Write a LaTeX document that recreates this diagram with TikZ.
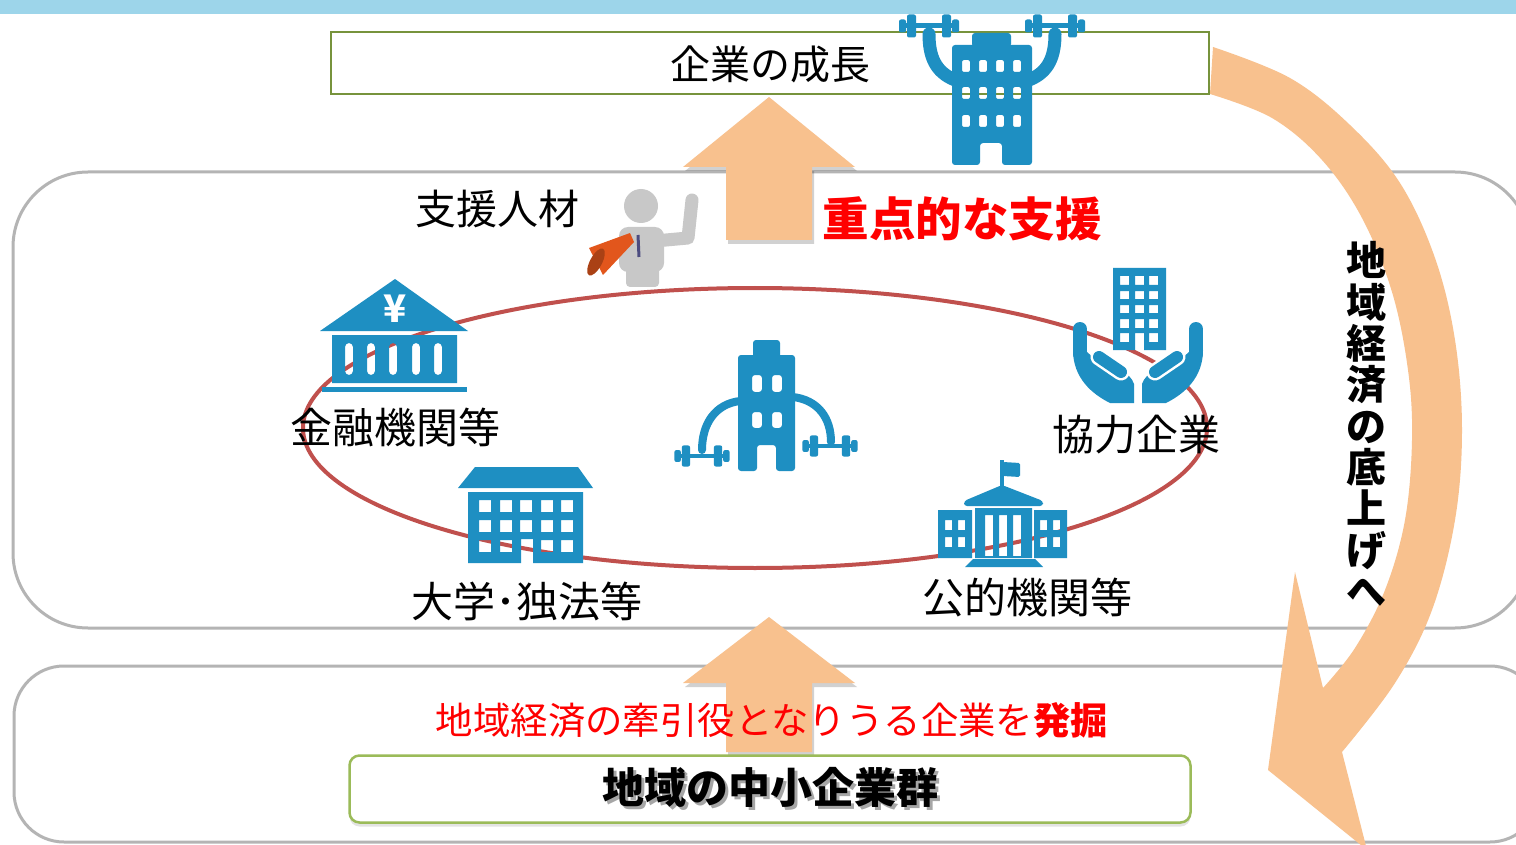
\documentclass[tikz,border=0pt]{standalone}
\usepackage{fontspec}
\setmainfont{Noto Sans CJK JP}
\usetikzlibrary{shadows}

\definecolor{bandblue}{HTML}{9DD5EA}
\definecolor{boxolive}{HTML}{77933C}
\definecolor{iconblue}{HTML}{1E8FC2}
\definecolor{peach}{HTML}{F8C18E}
\definecolor{ringred}{HTML}{C0504D}
\definecolor{panelgray}{HTML}{B4B4B4}
\definecolor{leafgreen}{HTML}{9BBB59}
\definecolor{figuregray}{HTML}{C8C8C8}
\definecolor{hornorange}{HTML}{E2561C}

\newcommand\jpsize[1]{\fontsize{#1}{#1}\selectfont}
% text with a soft grey copy slightly below and to the right
\newcommand\shadowed[1]{\rlap{\raisebox{-3pt}{\hspace{3pt}\textcolor{black!35}{#1}}}#1}
% straight block arrow pointing up: tip y, head base y, shaft bottom y
\newcommand\blockup[3]{(683,#2) -- (769,#1) -- (855,#2) -- (812,#2) -- (812,#3) -- (726,#3) -- (726,#2) -- cycle}
% one open hand (left); the right one is its mirror image
\newcommand\handshape{%
  \fill[iconblue] (1073,350) .. controls (1073,378) and (1092,394) .. (1110,403) -- (1134,403) -- (1134,384) .. controls (1130,372) and (1118,370) .. (1105,368) -- (1087,352) -- cycle;
  \draw[iconblue, line width=14, line cap=round] (1080,329) -- (1080,354);
  \draw[white, line width=17, line cap=round] (1099,357) -- (1121,372);
  \draw[iconblue, line width=12, line cap=round] (1099,357) -- (1121,372);
}

\tikzset{
  txt/.style={inner sep=0, text=black},
  dumbbellpic/.pic={
    \fill[iconblue] (-24,-2.5) rectangle (24,2.5);
    \fill[iconblue, rounded corners=2] (-22,-11.5) rectangle (-13,11.5);
    \fill[iconblue, rounded corners=2] (13,-11.5) rectangle (22,11.5);
    \fill[iconblue, rounded corners=2] (-30,-6.5) rectangle (-23,6.5);
    \fill[iconblue, rounded corners=2] (23,-6.5) rectangle (30,6.5);
  },
  arrowshadow/.style={fill=black, opacity=.18},
}

\begin{document}
\begin{tikzpicture}[x=1pt, y=-1pt]
\clip (0,0) rectangle (1516,845);
\fill[white] (0,0) rectangle (1516,845);

% header band
\fill[bandblue] (0,0) rectangle (1516,14);

% panels
\draw[panelgray, line width=3, rounded corners=75] (13,172) rectangle (1530,628);
\draw[panelgray, line width=3, rounded corners=50] (14,666) rectangle (1540,842);

% growth box
\node[draw=boxolive, line width=1.5, fill=white, minimum width=878, minimum height=62, inner sep=0] (growthbox) at (770,63) {};

% support ring
\draw[ringred, line width=4] (755,428) ellipse (452 and 140);

% ---- bank ----
\fill[iconblue] (395,279) -- (468,331) -- (320,331) -- cycle;
\node[inner sep=0, text=white, font=\bfseries\jpsize{38}] (yen) at (395,309) {¥};
\fill[iconblue, even odd rule] (332,335) rectangle (457,383)
  [rounded corners=4]
  (345,343) rectangle (353,375) (367,343) rectangle (375,375) (389,343) rectangle (397,375)
  (412,343) rectangle (420,375) (434,343) rectangle (442,375);
\fill[iconblue] (322,387) rectangle (467,392);

% ---- partner company held in hands ----
\fill[iconblue, even odd rule] (1113,268) -- (1166,268) -- (1166,350) -- (1144,350) -- (1144,333) -- (1135,333) -- (1135,350) -- (1113,350) -- cycle
  (1120,276) rectangle (1129,285) (1135,276) rectangle (1144,285) (1149,276) rectangle (1158,285)
  (1120,291) rectangle (1129,299) (1135,291) rectangle (1144,299) (1149,291) rectangle (1158,299)
  (1120,305) rectangle (1129,313) (1135,305) rectangle (1144,313) (1149,305) rectangle (1158,313)
  (1120,319) rectangle (1129,328) (1135,319) rectangle (1144,328) (1149,319) rectangle (1158,328)
  (1120,333) rectangle (1129,342) (1149,333) rectangle (1158,342);
\handshape
\begin{scope}[shift={(2276,0)}, xscale=-1]
  \handshape
\end{scope}

% ---- university ----
\fill[iconblue] (475,467) -- (578,467) -- (593,488) -- (458,488) -- cycle;
\fill[iconblue, even odd rule] (468,492) -- (583,492) -- (583,563) -- (533,563) -- (533,539) -- (521,539) -- (521,563) -- (468,563) -- cycle
  (479,500) rectangle (491,512) (500,500) rectangle (512,512) (520,500) rectangle (532,512) (541,500) rectangle (553,512) (561,500) rectangle (573,512)
  (479,520) rectangle (491,532) (500,520) rectangle (512,532) (520,520) rectangle (532,532) (541,520) rectangle (553,532) (561,520) rectangle (573,532)
  (479,540) rectangle (491,552) (500,540) rectangle (512,552) (541,540) rectangle (553,552) (561,540) rectangle (573,552);

% ---- public institution ----
\fill[iconblue] (1000,460) rectangle (1003.5,490);
\fill[iconblue, rounded corners=1.5] (1003,462) -- (1020,463) -- (1020,477) -- (1003,476) -- cycle;
\fill[iconblue, rounded corners=3] (1002,485) -- (1043,501) -- (1043,506) -- (964,506) -- (964,501) -- cycle;
\fill[iconblue, even odd rule] (975,508) rectangle (1032,558)
  (985,515) rectangle (993,556) (999,515) rectangle (1007,556) (1013,515) rectangle (1021,556);
\fill[iconblue, even odd rule] (938,510) rectangle (972,558)
  (945,520) rectangle (952,530) (958,520) rectangle (965,530) (945,537) rectangle (952,547) (958,537) rectangle (965,547);
\fill[iconblue, even odd rule] (1034,510) rectangle (1067,558)
  (1040,520) rectangle (1047,530) (1053,520) rectangle (1060,530) (1040,537) rectangle (1047,547) (1053,537) rectangle (1060,547);
\fill[iconblue] (973,559) -- (1035,559) -- (1043,567) -- (965,567) -- cycle;

% ---- growing company in the centre ----
\draw[iconblue, line width=8, line cap=round] (740,401) .. controls (715,404) and (702,424) .. (702,450);
\draw[iconblue, line width=8, line cap=round] (793,397) .. controls (818,400) and (831,418) .. (831,442);
\fill[iconblue, rounded corners=3] (753,340) rectangle (780,358);
\fill[iconblue, even odd rule] [rounded corners=3] (738,355) -- (795,355) -- (795,471) -- (776,471) -- (776,445) -- (757,445) -- (757,471) -- (738,471) -- cycle
  (752,375) rectangle (762,392) (772,375) rectangle (782,392)
  (752,412) rectangle (762,428) (772,412) rectangle (782,428);
\pic[scale=.92] at (702,456) {dumbbellpic};
\pic[scale=.92] at (830,446) {dumbbellpic};

% ---- support staff with megaphone ----
\fill[figuregray] (641,206) circle[radius=17];
\fill[figuregray, rounded corners=9] (619,227) rectangle (664,272);
\fill[figuregray, rounded corners=4] (626,264) rectangle (659,287);
\draw[figuregray, line width=13, line cap=round, line join=round] (655,241) -- (688,238) -- (692,200);
\draw[black!50!blue!40!gray, line width=3] (638,235) -- (639,257);
\fill[hornorange] (630,233) -- (634,242) -- (603,275) -- (589,248) -- cycle;
\fill[hornorange!75!black, rotate around={-28:(596,262)}] (596,262) ellipse (6 and 15);

% ---- upward block arrows ----
\fill[arrowshadow, shift={(2,4)}] \blockup{97}{167}{240};
\fill[peach] \blockup{97}{167}{240};
\fill[arrowshadow, shift={(2,4)}] \blockup{617}{683}{752};
\fill[peach] \blockup{617}{683}{752};

% ---- curved arrow down the right side ----
\fill[peach]
  plot[smooth, tension=.6] coordinates {(1213,47) (1290,78) (1350,125) (1400,183) (1435,258) (1455,340) (1462,430) (1455,520) (1432,610) (1395,683) (1342,752)}
  -- (1367,850) -- (1268,770) -- (1295,572) -- (1323,688)
  -- plot[smooth, tension=.6] coordinates {(1323,688) (1355,648) (1385,590) (1405,520) (1412,440) (1408,370) (1392,292) (1362,218) (1322,160) (1272,118) (1210,94)}
  -- cycle;

% ---- top building lifting two dumbbells ----
\draw[iconblue, line width=13, line cap=round] (955,80) .. controls (935,72) and (929,56) .. (929,34);
\draw[iconblue, line width=13, line cap=round] (1029,80) .. controls (1049,72) and (1055,56) .. (1055,34);
\pic at (929,26) {dumbbellpic};
\pic at (1055,26) {dumbbellpic};
\fill[iconblue, rounded corners=3] (972,33) rectangle (1011,47);
\fill[iconblue, even odd rule] [rounded corners=3] (952,45) -- (1032,45) -- (1032,165) -- (1002,165) -- (1002,143) -- (980,143) -- (980,165) -- (952,165) -- cycle
  [rounded corners=2]
  (962,60) rectangle (970,72) (979,60) rectangle (987,72) (996,60) rectangle (1004,72) (1013,60) rectangle (1021,72)
  (962,87) rectangle (970,99) (979,87) rectangle (987,99) (996,87) rectangle (1004,99) (1013,87) rectangle (1021,99)
  (962,115) rectangle (970,127) (979,115) rectangle (987,127) (996,115) rectangle (1004,127) (1013,115) rectangle (1021,127);

% ---- bottom group box ----
\node[draw=leafgreen, line width=2.5, fill=white, rounded corners=10, minimum width=841, minimum height=67, inner sep=0,
      drop shadow={opacity=.22, shadow xshift=0pt, shadow yshift=-4pt}] (smebox) at (770,789) {};

% ---- labels ----
\node[txt, font=\jpsize{40}] (growth) at (770,64) {企業の成長};
\node[txt, font=\jpsize{41}] (staff) at (497,209) {支援人材};
\node[txt, text=red, font=\bfseries\jpsize{46.5}] (focus) at (962,219) {重点的な支援};
\node[txt, font=\jpsize{42}] (finance) at (395,427) {金融機関等};
\node[txt, font=\jpsize{42}] (partner) at (1136,435) {協力企業};
\node[txt, font=\jpsize{42}] (academia) at (527,601) {大学･独法等};
\node[txt, font=\jpsize{42}] (publicbody) at (1027,598) {公的機関等};
\node[txt, align=center, font=\bfseries\fontsize{40}{41.3}\selectfont] (uplift) at (1366,424)
  {地\\域\\経\\済\\の\\底\\上\\げ\\へ};
\node[txt, text=red, font=\jpsize{37.4}] (discover) at (772,720) {地域経済の牽引役となりうる企業を\textbf{発掘}};
\node[txt, font=\bfseries\jpsize{42}] (smes) at (770,789) {\shadowed{地域の中小企業群}};
\end{tikzpicture}
\end{document}
